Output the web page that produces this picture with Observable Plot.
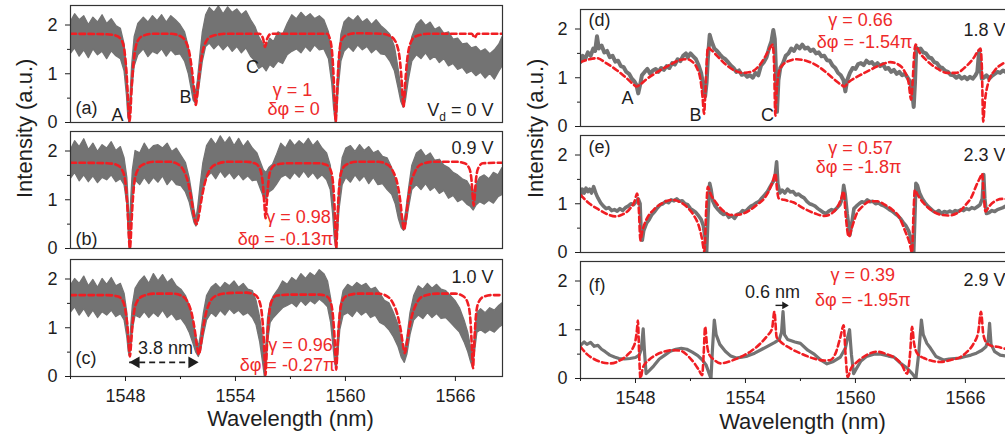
<!DOCTYPE html>
<html><head><meta charset="utf-8">
<script src="https://cdn.jsdelivr.net/npm/d3@7"></script>
<script src="https://cdn.jsdelivr.net/npm/@observablehq/plot@0.6"></script>
<style>
html,body{margin:0;padding:0;background:#fff;}
#wrap{position:relative;width:1005px;height:442px;overflow:hidden;background:#fff;}
#wrap svg{position:absolute;overflow:visible;}
</style></head>
<body><div id="wrap"></div>
<script>
// ---------- axis / tick values ----------
const X_DOMAIN = [1545, 1568.57];
const Y_DOMAIN = [0, 2.4];
const xMajor = [1548, 1554, 1560, 1566];
const xMinor = [1545, 1551, 1557, 1563];
const yMajor = [0, 1, 2];
const yMinor = [0.5, 1.5];

// ---------- measured spectra (a)-(c): noisy band [wavelength, low, high] ----------
const measA = [[1545.0,1.40,2.05],[1545.25,1.52,2.22],[1545.5,1.35,2.10],[1545.75,1.48,2.18],[1546.0,1.32,2.00],[1546.25,1.50,2.15],[1546.5,1.38,2.05],[1546.75,1.45,2.20],[1547.0,1.30,2.02],[1547.25,1.46,2.12],[1547.5,1.36,1.98],[1547.75,1.30,1.92],[1547.95,1.05,1.60],[1548.08,0.55,1.10],[1548.16,0.10,0.50],[1548.22,0.0,0.15],[1548.28,0.15,0.55],[1548.36,0.6,1.15],[1548.5,1.15,1.75],[1548.7,1.38,2.02],[1549.0,1.50,2.15],[1549.25,1.34,2.05],[1549.5,1.45,2.18],[1549.75,1.40,2.08],[1550.0,1.50,2.20],[1550.25,1.35,2.05],[1550.5,1.48,2.18],[1550.75,1.38,2.10],[1551.0,1.40,2.0],[1551.25,1.25,1.85],[1551.45,1.0,1.55],[1551.6,0.7,1.15],[1551.72,0.45,0.8],[1551.84,0.38,0.6],[1551.95,0.5,0.85],[1552.08,0.85,1.35],[1552.22,1.25,1.85],[1552.4,1.55,2.20],[1552.6,1.62,2.35],[1552.85,1.50,2.25],[1553.1,1.60,2.38],[1553.35,1.48,2.22],[1553.6,1.58,2.36],[1553.85,1.45,2.25],[1554.1,1.55,2.32],[1554.35,1.42,2.20],[1554.6,1.52,2.28],[1554.85,1.35,2.10],[1555.1,1.25,1.95],[1555.3,1.10,1.75],[1555.5,1.15,1.62],[1555.7,1.05,1.55],[1555.9,1.18,1.72],[1556.1,1.12,1.65],[1556.35,1.25,1.85],[1556.6,1.20,1.80],[1556.85,1.38,2.02],[1557.1,1.45,2.20],[1557.35,1.50,2.12],[1557.6,1.42,2.25],[1557.85,1.55,2.15],[1558.1,1.45,2.22],[1558.35,1.58,2.12],[1558.6,1.48,2.18],[1558.85,1.50,2.10],[1559.1,1.30,1.85],[1559.28,0.8,1.35],[1559.38,0.3,0.75],[1559.47,0.0,0.2],[1559.55,0.15,0.6],[1559.63,0.7,1.2],[1559.78,1.25,1.8],[1559.95,1.45,2.05],[1560.2,1.55,2.15],[1560.45,1.45,2.08],[1560.7,1.58,2.18],[1560.95,1.48,2.05],[1561.2,1.55,2.12],[1561.45,1.42,2.0],[1561.7,1.50,2.10],[1561.95,1.40,1.98],[1562.2,1.38,1.90],[1562.45,1.25,1.80],[1562.7,1.05,1.55],[1562.9,0.7,1.1],[1563.05,0.42,0.7],[1563.18,0.30,0.45],[1563.3,0.45,0.75],[1563.45,0.85,1.3],[1563.65,1.25,1.75],[1563.9,1.38,2.0],[1564.15,1.30,2.10],[1564.4,1.42,1.98],[1564.65,1.28,2.05],[1564.9,1.35,1.90],[1565.15,1.22,1.95],[1565.4,1.30,1.82],[1565.65,1.15,1.85],[1565.9,1.20,1.70],[1566.15,1.08,1.72],[1566.4,1.12,1.60],[1566.65,1.0,1.62],[1566.9,1.05,1.52],[1567.15,0.95,1.55],[1567.4,1.02,1.45],[1567.65,0.90,1.50],[1567.9,1.00,1.40],[1568.15,0.88,1.48],[1568.4,1.05,1.60],[1568.57,1.15,1.75]];

const measB = [[1545.0,1.42,2.0],[1545.25,1.55,2.2],[1545.5,1.38,2.08],[1545.75,1.5,2.24],[1546.0,1.36,2.02],[1546.25,1.48,2.15],[1546.5,1.34,1.98],[1546.75,1.45,2.12],[1547.0,1.4,2.05],[1547.25,1.5,2.18],[1547.5,1.36,2.0],[1547.75,1.42,2.08],[1547.95,1.3,1.85],[1548.1,0.9,1.45],[1548.18,0.3,0.9],[1548.24,0.0,0.4],[1548.3,0.3,0.9],[1548.4,1.0,1.6],[1548.55,1.4,2.0],[1548.8,1.3,1.95],[1549.05,1.45,2.15],[1549.3,1.32,2.0],[1549.55,1.45,2.1],[1549.8,1.35,2.12],[1550.05,1.48,2.05],[1550.3,1.3,2.15],[1550.55,1.42,1.98],[1550.8,1.3,2.05],[1551.05,1.28,1.9],[1551.3,1.15,1.75],[1551.5,0.95,1.45],[1551.65,0.7,1.1],[1551.77,0.52,0.78],[1551.87,0.45,0.6],[1551.97,0.55,0.85],[1552.1,0.85,1.3],[1552.25,1.2,1.75],[1552.45,1.45,2.1],[1552.7,1.55,2.25],[1552.95,1.42,2.12],[1553.2,1.58,2.3],[1553.45,1.45,2.15],[1553.7,1.55,2.28],[1553.95,1.42,2.1],[1554.2,1.52,2.25],[1554.45,1.4,2.08],[1554.7,1.48,2.2],[1554.95,1.38,2.05],[1555.2,1.4,1.95],[1555.4,1.2,1.75],[1555.55,1.05,1.6],[1555.7,1.0,1.55],[1555.85,1.15,1.65],[1556.05,1.2,1.72],[1556.25,1.3,1.9],[1556.5,1.45,2.15],[1556.75,1.5,2.05],[1557.0,1.42,2.22],[1557.25,1.55,2.1],[1557.5,1.45,2.2],[1557.75,1.58,2.12],[1558.0,1.45,2.25],[1558.25,1.55,2.1],[1558.5,1.42,2.2],[1558.75,1.5,2.05],[1559.0,1.4,1.95],[1559.2,1.2,1.7],[1559.33,0.7,1.2],[1559.42,0.2,0.6],[1559.5,0.0,0.15],[1559.58,0.25,0.65],[1559.68,0.8,1.3],[1559.85,1.3,1.85],[1560.05,1.45,2.05],[1560.3,1.35,2.1],[1560.55,1.5,1.98],[1560.8,1.38,2.12],[1561.05,1.48,2.0],[1561.3,1.32,2.08],[1561.55,1.45,1.95],[1561.8,1.3,2.0],[1562.05,1.32,1.88],[1562.3,1.2,1.85],[1562.55,1.1,1.65],[1562.75,0.9,1.4],[1562.92,0.6,1.0],[1563.07,0.42,0.7],[1563.2,0.36,0.5],[1563.33,0.5,0.8],[1563.48,0.85,1.25],[1563.65,1.2,1.7],[1563.9,1.3,1.95],[1564.15,1.2,2.02],[1564.4,1.32,1.88],[1564.65,1.18,1.95],[1564.9,1.25,1.8],[1565.15,1.12,1.82],[1565.4,1.18,1.7],[1565.65,1.02,1.65],[1565.9,1.08,1.55],[1566.15,0.95,1.5],[1566.4,1.0,1.42],[1566.65,0.9,1.38],[1566.85,0.85,1.25],[1567.0,0.78,1.15],[1567.15,0.88,1.3],[1567.35,0.95,1.45],[1567.6,0.9,1.5],[1567.85,0.98,1.42],[1568.1,0.92,1.55],[1568.35,1.05,1.5],[1568.57,1.1,1.65]];

const measC = [[1545.0,1.3,1.85],[1545.25,1.42,2.0],[1545.5,1.25,1.9],[1545.75,1.38,2.05],[1546.0,1.22,1.85],[1546.25,1.35,1.98],[1546.5,1.2,1.82],[1546.75,1.32,2.0],[1547.0,1.25,1.88],[1547.25,1.35,2.02],[1547.5,1.22,1.85],[1547.75,1.28,1.9],[1547.95,1.15,1.7],[1548.1,0.8,1.3],[1548.18,0.5,0.9],[1548.24,0.42,0.6],[1548.3,0.55,0.95],[1548.4,0.95,1.45],[1548.55,1.25,1.8],[1548.8,1.2,1.95],[1549.05,1.32,2.05],[1549.3,1.2,1.9],[1549.55,1.3,2.1],[1549.8,1.22,1.95],[1550.05,1.35,2.08],[1550.3,1.2,1.92],[1550.55,1.28,2.0],[1550.8,1.15,1.85],[1551.05,1.18,1.78],[1551.3,1.05,1.65],[1551.5,0.9,1.45],[1551.7,0.68,1.15],[1551.85,0.5,0.85],[1552.0,0.4,0.6],[1552.12,0.52,0.85],[1552.28,0.85,1.3],[1552.45,1.15,1.65],[1552.7,1.3,1.82],[1552.95,1.22,1.9],[1553.2,1.35,1.8],[1553.45,1.25,1.92],[1553.7,1.38,1.85],[1553.95,1.28,1.95],[1554.2,1.35,1.82],[1554.45,1.25,1.9],[1554.7,1.3,1.78],[1554.95,1.2,1.75],[1555.15,1.05,1.55],[1555.35,0.7,1.2],[1555.5,0.3,0.8],[1555.6,0.0,0.3],[1555.68,0.2,0.6],[1555.78,0.7,1.2],[1555.92,1.1,1.5],[1556.1,1.2,1.65],[1556.35,1.3,1.78],[1556.6,1.4,1.95],[1556.85,1.45,1.88],[1557.1,1.5,2.02],[1557.35,1.42,1.95],[1557.6,1.55,2.1],[1557.85,1.45,2.0],[1558.1,1.55,2.12],[1558.35,1.48,2.05],[1558.6,1.58,2.18],[1558.85,1.5,2.1],[1559.05,1.42,1.95],[1559.22,1.1,1.6],[1559.35,0.6,1.05],[1559.45,0.25,0.55],[1559.52,0.15,0.35],[1559.6,0.4,0.8],[1559.72,0.95,1.4],[1559.9,1.25,1.75],[1560.15,1.3,1.88],[1560.4,1.22,1.82],[1560.65,1.35,1.92],[1560.9,1.25,1.85],[1561.15,1.32,1.9],[1561.4,1.2,1.78],[1561.65,1.25,1.82],[1561.9,1.1,1.7],[1562.15,1.05,1.55],[1562.4,0.95,1.5],[1562.65,0.8,1.3],[1562.9,0.6,1.05],[1563.08,0.38,0.75],[1563.24,0.28,0.5],[1563.38,0.45,0.8],[1563.55,0.85,1.3],[1563.75,1.15,1.65],[1564.0,1.25,1.85],[1564.25,1.18,1.78],[1564.5,1.3,1.9],[1564.75,1.2,1.8],[1565.0,1.28,1.88],[1565.25,1.18,1.78],[1565.5,1.2,1.75],[1565.75,1.1,1.65],[1566.0,1.0,1.55],[1566.25,0.9,1.4],[1566.5,0.7,1.15],[1566.7,0.5,0.9],[1566.85,0.3,0.6],[1566.96,0.18,0.4],[1567.07,0.5,0.85],[1567.2,0.9,1.3],[1567.4,0.95,1.38],[1567.65,0.88,1.3],[1567.9,0.95,1.4],[1568.15,0.9,1.35],[1568.4,1.0,1.45],[1568.57,1.05,1.5]];

// ---------- measured spectra (d)-(f): [wavelength, intensity] ----------
const measD = [[1545.00,1.32],[1545.12,1.45],[1545.25,1.38],[1545.4,1.52],[1545.55,1.45],[1545.7,1.6],[1545.8,1.55],[1545.9,1.85],[1546.0,1.6],[1546.15,1.66],[1546.3,1.52],[1546.45,1.55],[1546.6,1.42],[1546.75,1.45],[1546.9,1.33],[1547.05,1.35],[1547.2,1.24],[1547.35,1.22],[1547.5,1.12],[1547.65,1.08],[1547.8,0.98],[1547.95,0.92],[1548.05,0.85],[1548.15,0.68],[1548.25,0.85],[1548.35,1.05],[1548.5,1.12],[1548.65,1.18],[1548.8,1.08],[1548.95,1.15],[1549.1,1.18],[1549.25,1.12],[1549.4,1.2],[1549.55,1.16],[1549.7,1.24],[1549.85,1.2],[1550.0,1.3],[1550.15,1.27],[1550.3,1.38],[1550.45,1.34],[1550.6,1.45],[1550.75,1.5],[1550.85,1.42],[1551.0,1.5],[1551.15,1.44],[1551.3,1.38],[1551.45,1.25],[1551.58,1.1],[1551.7,0.85],[1551.8,0.62],[1551.88,0.9],[1551.95,1.4],[1552.05,1.88],[1552.15,1.75],[1552.3,1.6],[1552.45,1.55],[1552.6,1.48],[1552.75,1.42],[1552.9,1.38],[1553.05,1.32],[1553.2,1.25],[1553.35,1.2],[1553.5,1.12],[1553.65,1.15],[1553.8,1.06],[1553.95,1.08],[1554.1,1.02],[1554.25,1.05],[1554.4,1.0],[1554.55,1.1],[1554.7,1.05],[1554.85,1.25],[1555.0,1.32],[1555.15,1.42],[1555.3,1.62],[1555.42,1.75],[1555.52,1.98],[1555.6,1.8],[1555.66,1.2],[1555.72,0.3],[1555.8,0.95],[1555.9,1.2],[1556.05,1.3],[1556.2,1.45],[1556.35,1.5],[1556.5,1.6],[1556.65,1.55],[1556.8,1.66],[1556.95,1.6],[1557.1,1.68],[1557.25,1.6],[1557.4,1.62],[1557.55,1.55],[1557.7,1.58],[1557.85,1.5],[1558.0,1.52],[1558.15,1.44],[1558.3,1.45],[1558.45,1.36],[1558.6,1.35],[1558.75,1.25],[1558.9,1.2],[1559.05,1.1],[1559.2,1.05],[1559.35,0.95],[1559.45,0.72],[1559.55,0.95],[1559.7,1.1],[1559.85,1.2],[1560.0,1.18],[1560.15,1.28],[1560.3,1.3],[1560.45,1.26],[1560.6,1.35],[1560.75,1.3],[1560.9,1.32],[1561.05,1.25],[1561.2,1.3],[1561.35,1.24],[1561.5,1.28],[1561.65,1.18],[1561.8,1.2],[1561.95,1.12],[1562.1,1.16],[1562.25,1.08],[1562.4,1.12],[1562.55,1.05],[1562.7,1.08],[1562.85,1.0],[1562.98,0.92],[1563.1,0.7],[1563.18,0.4],[1563.25,0.9],[1563.32,1.62],[1563.42,1.58],[1563.55,1.6],[1563.7,1.52],[1563.85,1.5],[1564.0,1.42],[1564.15,1.4],[1564.3,1.32],[1564.45,1.3],[1564.6,1.22],[1564.75,1.2],[1564.9,1.14],[1565.05,1.12],[1565.2,1.06],[1565.35,1.05],[1565.5,1.0],[1565.65,1.04],[1565.8,0.98],[1565.95,1.02],[1566.1,0.97],[1566.25,1.02],[1566.4,0.98],[1566.55,1.05],[1566.65,1.12],[1566.75,1.55],[1566.82,1.2],[1566.9,0.98],[1567.0,1.0],[1567.15,1.05],[1567.3,0.98],[1567.45,1.04],[1567.6,1.08],[1567.75,1.12],[1567.9,1.1],[1568.05,1.15],[1568.2,1.12],[1568.4,1.15],[1568.57,1.12]];

const measE = [[1545.0,1.15],[1545.1,1.3],[1545.2,1.22],[1545.3,1.32],[1545.4,1.25],[1545.5,1.3],[1545.6,1.22],[1545.72,1.35],[1545.85,1.2],[1545.95,1.12],[1546.1,1.02],[1546.25,0.95],[1546.4,0.9],[1546.55,0.92],[1546.7,0.86],[1546.85,0.88],[1547.0,0.85],[1547.15,0.9],[1547.3,0.86],[1547.45,0.92],[1547.6,0.95],[1547.75,1.0],[1547.9,0.98],[1548.05,1.05],[1548.15,1.1],[1548.25,1.0],[1548.3,0.5],[1548.37,0.25],[1548.45,0.45],[1548.6,0.6],[1548.75,0.68],[1548.9,0.78],[1549.05,0.84],[1549.2,0.92],[1549.35,0.98],[1549.5,1.0],[1549.65,1.05],[1549.8,1.02],[1549.95,1.08],[1550.1,1.06],[1550.25,1.1],[1550.4,1.05],[1550.55,1.06],[1550.7,1.0],[1550.85,0.98],[1551.0,0.9],[1551.15,0.86],[1551.3,0.82],[1551.45,0.75],[1551.58,0.68],[1551.7,0.55],[1551.8,0.3],[1551.88,0.0],[1551.96,0.8],[1552.05,1.42],[1552.12,1.3],[1552.22,1.05],[1552.35,0.95],[1552.5,0.88],[1552.65,0.82],[1552.8,0.78],[1552.95,0.8],[1553.1,0.72],[1553.25,0.76],[1553.4,0.7],[1553.55,0.78],[1553.7,0.8],[1553.85,0.86],[1554.0,0.84],[1554.15,0.9],[1554.3,0.95],[1554.45,0.98],[1554.6,1.02],[1554.75,1.05],[1554.9,1.12],[1555.05,1.18],[1555.2,1.25],[1555.35,1.35],[1555.5,1.45],[1555.6,1.5],[1555.7,1.86],[1555.77,1.4],[1555.88,1.22],[1556.0,1.28],[1556.15,1.22],[1556.3,1.3],[1556.45,1.24],[1556.6,1.25],[1556.75,1.18],[1556.9,1.2],[1557.05,1.15],[1557.2,1.12],[1557.35,1.05],[1557.5,1.0],[1557.65,0.98],[1557.8,0.95],[1557.95,0.9],[1558.1,0.86],[1558.25,0.82],[1558.4,0.8],[1558.55,0.85],[1558.7,0.88],[1558.85,0.86],[1559.0,0.92],[1559.15,0.98],[1559.28,1.1],[1559.36,1.38],[1559.44,1.2],[1559.55,0.8],[1559.7,0.36],[1559.8,0.6],[1559.92,0.9],[1560.05,0.95],[1560.2,1.0],[1560.35,1.04],[1560.5,1.02],[1560.65,1.08],[1560.8,1.04],[1560.95,1.05],[1561.1,1.0],[1561.25,1.02],[1561.4,0.98],[1561.55,0.96],[1561.7,0.92],[1561.85,0.88],[1562.0,0.85],[1562.15,0.8],[1562.3,0.76],[1562.45,0.7],[1562.6,0.62],[1562.75,0.55],[1562.9,0.45],[1563.02,0.3],[1563.12,0.1],[1563.18,0.0],[1563.24,0.7],[1563.3,1.42],[1563.38,1.38],[1563.5,1.22],[1563.65,1.1],[1563.8,1.02],[1563.95,0.95],[1564.1,0.9],[1564.25,0.85],[1564.4,0.82],[1564.55,0.86],[1564.7,0.8],[1564.85,0.84],[1565.0,0.82],[1565.15,0.85],[1565.3,0.82],[1565.45,0.86],[1565.6,0.84],[1565.75,0.88],[1565.9,0.86],[1566.05,0.9],[1566.2,0.88],[1566.35,0.92],[1566.5,0.9],[1566.65,0.94],[1566.8,0.98],[1566.92,1.1],[1567.0,1.6],[1567.06,1.1],[1567.15,0.8],[1567.3,0.82],[1567.45,0.86],[1567.6,0.84],[1567.75,0.88],[1567.9,0.9],[1568.05,0.92],[1568.2,0.95],[1568.4,0.98],[1568.57,1.0]];

const measF = [[1545.0,0.68],[1545.2,0.75],[1545.35,0.7],[1545.55,0.74],[1545.75,0.66],[1545.95,0.68],[1546.15,0.6],[1546.35,0.55],[1546.6,0.48],[1546.85,0.44],[1547.1,0.41],[1547.4,0.4],[1547.7,0.41],[1548.0,0.43],[1548.2,0.48],[1548.32,0.6],[1548.42,1.02],[1548.5,0.5],[1548.58,0.1],[1548.75,0.16],[1549.0,0.26],[1549.3,0.4],[1549.6,0.48],[1549.9,0.56],[1550.2,0.6],[1550.5,0.62],[1550.8,0.6],[1551.1,0.54],[1551.4,0.47],[1551.65,0.38],[1551.85,0.28],[1552.0,0.12],[1552.12,0.0],[1552.2,0.6],[1552.3,1.2],[1552.4,0.9],[1552.6,0.7],[1552.9,0.56],[1553.2,0.46],[1553.5,0.42],[1553.8,0.44],[1554.1,0.46],[1554.5,0.52],[1554.9,0.6],[1555.3,0.68],[1555.6,0.74],[1555.85,0.8],[1555.97,0.95],[1556.05,1.37],[1556.13,0.9],[1556.3,0.8],[1556.7,0.75],[1557.0,0.72],[1557.4,0.58],[1557.75,0.5],[1558.1,0.38],[1558.45,0.3],[1558.8,0.35],[1559.18,0.44],[1559.45,0.62],[1559.58,0.85],[1559.68,1.0],[1559.78,0.5],[1559.9,0.1],[1560.05,0.2],[1560.3,0.36],[1560.6,0.45],[1561.0,0.5],[1561.4,0.5],[1561.8,0.46],[1562.1,0.44],[1562.5,0.3],[1562.8,0.22],[1563.1,0.1],[1563.3,0.0],[1563.45,0.5],[1563.6,1.2],[1563.7,0.9],[1563.9,0.72],[1564.1,0.62],[1564.4,0.45],[1564.8,0.38],[1565.1,0.4],[1565.4,0.41],[1565.7,0.42],[1566.0,0.45],[1566.3,0.48],[1566.6,0.52],[1566.9,0.58],[1567.12,0.65],[1567.25,0.8],[1567.32,1.13],[1567.4,0.7],[1567.6,0.55],[1567.9,0.48],[1568.2,0.46],[1568.57,0.45]];

// ---------- fitted curves (red dashed): [wavelength, intensity] ----------
const fitA = [[1545.0,1.82],[1547.0,1.81],[1547.5,1.78],[1547.8,1.68],[1547.95,1.45],[1548.05,1.05],[1548.12,0.6],[1548.18,0.15],[1548.22,0.02],[1548.26,0.15],[1548.32,0.6],[1548.4,1.05],[1548.5,1.42],[1548.65,1.66],[1548.9,1.77],[1549.5,1.82],[1550.5,1.82],[1551.0,1.77],[1551.3,1.65],[1551.5,1.40],[1551.65,1.0],[1551.76,0.6],[1551.84,0.36],[1551.92,0.6],[1552.03,1.0],[1552.18,1.40],[1552.38,1.65],[1552.7,1.77],[1553.5,1.82],[1555.3,1.82],[1555.5,1.73],[1555.62,1.55],[1555.74,1.73],[1555.95,1.82],[1559.0,1.82],[1559.15,1.72],[1559.28,1.4],[1559.36,0.9],[1559.42,0.35],[1559.47,0.02],[1559.52,0.35],[1559.58,0.9],[1559.66,1.4],[1559.8,1.7],[1560.1,1.8],[1560.6,1.83],[1562.0,1.82],[1562.5,1.76],[1562.8,1.6],[1562.98,1.25],[1563.08,0.8],[1563.17,0.32],[1563.26,0.8],[1563.36,1.25],[1563.52,1.6],[1563.8,1.76],[1564.5,1.82],[1566.9,1.82],[1567.05,1.74],[1567.2,1.82],[1568.57,1.82]];

const fitB = [[1545.0,1.76],[1547.0,1.75],[1547.5,1.72],[1547.8,1.62],[1547.98,1.4],[1548.08,1.0],[1548.15,0.55],[1548.2,0.15],[1548.24,0.0],[1548.28,0.15],[1548.33,0.55],[1548.4,1.0],[1548.5,1.4],[1548.68,1.62],[1548.95,1.72],[1549.6,1.78],[1550.4,1.78],[1550.9,1.72],[1551.2,1.58],[1551.45,1.3],[1551.62,0.95],[1551.75,0.65],[1551.87,0.5],[1551.99,0.65],[1552.12,0.95],[1552.3,1.3],[1552.55,1.58],[1552.9,1.72],[1553.6,1.78],[1554.6,1.78],[1555.1,1.74],[1555.35,1.62],[1555.5,1.3],[1555.58,0.9],[1555.64,0.62],[1555.7,0.9],[1555.78,1.3],[1555.93,1.62],[1556.2,1.72],[1557.0,1.75],[1558.5,1.75],[1558.95,1.72],[1559.2,1.6],[1559.32,1.35],[1559.4,0.9],[1559.46,0.3],[1559.5,0.0],[1559.54,0.3],[1559.6,0.9],[1559.68,1.35],[1559.8,1.6],[1560.05,1.72],[1560.6,1.78],[1561.8,1.78],[1562.3,1.72],[1562.6,1.58],[1562.85,1.3],[1563.0,0.95],[1563.1,0.6],[1563.2,0.38],[1563.3,0.6],[1563.4,0.95],[1563.55,1.3],[1563.8,1.58],[1564.1,1.72],[1564.8,1.78],[1566.0,1.78],[1566.5,1.75],[1566.75,1.65],[1566.88,1.4],[1566.95,1.05],[1567.0,0.88],[1567.05,1.05],[1567.12,1.4],[1567.25,1.65],[1567.5,1.75],[1568.57,1.76]];

const fitC = [[1545.0,1.67],[1547.0,1.67],[1547.6,1.64],[1547.85,1.55],[1548.0,1.35],[1548.1,1.05],[1548.18,0.65],[1548.24,0.41],[1548.3,0.65],[1548.38,1.05],[1548.48,1.35],[1548.65,1.55],[1548.95,1.65],[1549.6,1.7],[1550.6,1.7],[1551.1,1.65],[1551.4,1.52],[1551.62,1.28],[1551.78,0.95],[1551.9,0.62],[1552.0,0.45],[1552.1,0.62],[1552.22,0.95],[1552.38,1.28],[1552.6,1.52],[1552.9,1.65],[1553.6,1.71],[1554.6,1.72],[1555.05,1.68],[1555.3,1.55],[1555.45,1.25],[1555.54,0.8],[1555.6,0.3],[1555.64,0.03],[1555.68,0.3],[1555.74,0.8],[1555.83,1.25],[1555.98,1.55],[1556.25,1.66],[1557.0,1.68],[1558.6,1.68],[1559.0,1.64],[1559.2,1.52],[1559.33,1.2],[1559.42,0.7],[1559.47,0.3],[1559.5,0.14],[1559.53,0.3],[1559.58,0.7],[1559.67,1.2],[1559.8,1.52],[1560.05,1.65],[1560.7,1.7],[1561.8,1.7],[1562.3,1.64],[1562.6,1.5],[1562.85,1.25],[1563.02,0.95],[1563.14,0.65],[1563.24,0.48],[1563.34,0.65],[1563.46,0.95],[1563.63,1.25],[1563.88,1.5],[1564.2,1.64],[1565.0,1.7],[1566.0,1.7],[1566.45,1.64],[1566.68,1.5],[1566.82,1.15],[1566.9,0.6],[1566.96,0.17],[1567.02,0.6],[1567.1,1.15],[1567.24,1.5],[1567.5,1.63],[1568.0,1.67],[1568.57,1.67]];

const fitD = [[1545.0,1.32],[1545.5,1.38],[1545.9,1.4],[1546.4,1.3],[1547.0,1.15],[1547.55,0.98],[1547.9,0.86],[1548.05,0.82],[1548.25,0.86],[1548.6,0.97],[1549.2,1.12],[1549.8,1.25],[1550.4,1.36],[1550.8,1.38],[1551.1,1.33],[1551.35,1.2],[1551.55,0.95],[1551.66,0.6],[1551.74,0.26],[1551.8,0.6],[1551.87,1.2],[1551.95,1.62],[1552.1,1.58],[1552.45,1.45],[1552.9,1.28],[1553.4,1.15],[1553.9,1.1],[1554.3,1.12],[1554.75,1.25],[1555.1,1.45],[1555.35,1.62],[1555.48,1.68],[1555.56,1.3],[1555.63,0.22],[1555.7,0.7],[1555.82,1.1],[1556.0,1.25],[1556.4,1.35],[1556.8,1.38],[1557.3,1.35],[1557.9,1.25],[1558.5,1.08],[1558.9,0.95],[1559.25,0.85],[1559.4,0.82],[1559.6,0.9],[1560.0,1.0],[1560.6,1.12],[1561.3,1.25],[1561.9,1.32],[1562.3,1.28],[1562.65,1.15],[1562.9,0.9],[1563.04,0.55],[1563.12,0.9],[1563.2,1.45],[1563.28,1.68],[1563.45,1.55],[1563.9,1.35],[1564.5,1.18],[1565.0,1.1],[1565.5,1.1],[1566.0,1.22],[1566.4,1.38],[1566.7,1.55],[1566.82,1.6],[1566.9,1.2],[1566.97,0.1],[1567.06,0.5],[1567.25,0.9],[1567.6,1.15],[1568.0,1.28],[1568.57,1.35]];

const fitE = [[1545.0,1.18],[1545.5,1.0],[1546.0,0.88],[1546.5,0.78],[1546.9,0.74],[1547.3,0.78],[1547.7,0.9],[1547.95,1.05],[1548.09,1.21],[1548.18,0.9],[1548.27,0.25],[1548.38,0.45],[1548.6,0.68],[1549.0,0.88],[1549.5,1.02],[1550.0,1.08],[1550.5,1.02],[1550.9,0.9],[1551.2,0.75],[1551.45,0.55],[1551.62,0.3],[1551.76,0.02],[1551.86,0.9],[1551.95,1.35],[1552.1,1.2],[1552.4,1.02],[1552.8,0.85],[1553.2,0.77],[1553.7,0.78],[1554.2,0.86],[1554.7,1.0],[1555.05,1.12],[1555.3,1.28],[1555.48,1.45],[1555.64,1.62],[1555.72,1.3],[1555.82,1.11],[1556.1,1.08],[1556.6,1.03],[1557.2,0.9],[1557.8,0.8],[1558.3,0.75],[1558.7,0.8],[1559.0,0.92],[1559.2,1.08],[1559.36,1.25],[1559.46,0.8],[1559.64,0.32],[1559.8,0.5],[1560.05,0.78],[1560.4,0.95],[1560.8,1.05],[1561.2,1.05],[1561.6,0.98],[1562.0,0.88],[1562.4,0.72],[1562.7,0.45],[1562.95,0.2],[1563.09,0.0],[1563.17,0.8],[1563.24,1.28],[1563.4,1.18],[1563.7,1.02],[1564.1,0.88],[1564.6,0.78],[1565.1,0.76],[1565.6,0.82],[1566.0,0.97],[1566.35,1.15],[1566.6,1.38],[1566.82,1.55],[1566.91,1.62],[1567.0,1.2],[1567.09,0.84],[1567.3,0.95],[1567.6,1.05],[1568.0,1.1],[1568.57,1.1]];

const fitF = [[1545.0,0.65],[1545.35,0.5],[1545.73,0.4],[1546.2,0.33],[1546.64,0.31],[1547.1,0.36],[1547.55,0.48],[1547.85,0.62],[1548.0,0.78],[1548.08,1.0],[1548.13,1.19],[1548.2,0.5],[1548.27,0.0],[1548.4,0.22],[1548.73,0.38],[1549.1,0.48],[1549.55,0.55],[1550.0,0.58],[1550.45,0.57],[1550.9,0.45],[1551.2,0.32],[1551.45,0.18],[1551.64,0.07],[1551.72,0.5],[1551.8,1.06],[1551.9,0.7],[1552.0,0.51],[1552.3,0.38],[1552.64,0.31],[1553.2,0.36],[1553.73,0.44],[1554.3,0.56],[1554.82,0.72],[1555.2,0.88],[1555.45,1.02],[1555.58,1.37],[1555.7,0.85],[1555.85,0.78],[1556.45,0.62],[1557.1,0.5],[1557.73,0.41],[1558.3,0.37],[1558.64,0.38],[1558.95,0.55],[1559.18,0.85],[1559.36,1.09],[1559.46,0.5],[1559.58,0.03],[1559.75,0.2],[1560.09,0.34],[1560.6,0.48],[1561.18,0.55],[1561.7,0.5],[1562.09,0.44],[1562.5,0.3],[1562.82,0.1],[1562.98,0.5],[1563.09,1.06],[1563.2,0.72],[1563.4,0.5],[1563.73,0.42],[1564.2,0.36],[1564.64,0.34],[1565.2,0.38],[1565.73,0.44],[1566.1,0.55],[1566.45,0.72],[1566.7,0.95],[1566.85,1.37],[1566.98,0.9],[1567.18,0.72],[1567.5,0.66],[1567.73,0.65],[1568.18,0.61],[1568.57,0.6]];

// ---------- annotations: [wavelength, intensity, text, anchor, isRed] ----------
const notesA = [[1545.27,0.30,"(a)","start",0],[1547.56,0.15,"A","middle",0],[1551.27,0.52,"B","middle",0],[1554.93,1.13,"C","middle",0],[1557.11,0.66,"γ = 1","middle",1],[1557.17,0.27,"δφ = 0","middle",1],[1568.08,0.25,"Vd = 0 V","end",0]];
const notesB = [[1545.27,0.20,"(b)","start",0],[1568.08,2.05,"0.9 V","end",0],[1557.44,0.64,"γ = 0.98","middle",1],[1556.73,0.20,"δφ = -0.13π","middle",1]];
const notesC = [[1545.27,0.37,"(c)","start",0],[1568.08,2.03,"1.0 V","end",0],[1557.55,0.64,"γ = 0.96","middle",1],[1556.84,0.23,"δφ = -0.27π","middle",1],[1550.18,0.57,"3.8 nm","middle",0]];
const notesD = [[1545.44,2.17,"(d)","start",0],[1560.28,2.17,"γ = 0.66","middle",1],[1560.5,1.72,"δφ = -1.54π","middle",1],[1565.9,1.97,"1.8 V","start",0],[1547.56,0.57,"A","middle",0],[1551.27,0.23,"B","middle",0],[1555.2,0.23,"C","middle",0]];
const notesE = [[1545.44,2.15,"(e)","start",0],[1560.28,2.13,"γ = 0.57","middle",1],[1560.17,1.74,"δφ = -1.8π","middle",1],[1565.9,1.99,"2.3 V","start",0]];
const notesF = [[1545.44,1.91,"(f)","start",0],[1560.4,2.11,"γ = 0.39","middle",1],[1560.4,1.60,"δφ = -1.95π","middle",1],[1565.9,2.01,"2.9 V","start",0],[1555.47,1.76,"0.6 nm","middle",0]];
// arrows: [from wavelength, to wavelength, intensity]
const spanC = [[1548.2, 1552.0, 0.29]];
const shiftF = [[1555.64, 1556.29, 1.50]];

// ---------- styling ----------
const FONT = '"Liberation Sans", Arial, Helvetica, sans-serif';
const GRAY = "#737373", RED = "#f01e23", RED_TXT = "#ee2a2a", TXT = "#1e1e1e";
const wrap = document.getElementById("wrap");

function noteMarks(notes) {
  const out = [];
  for (const anchor of ["start", "middle", "end"]) for (const red of [0, 1]) {
    const sub = notes.filter(n => n[3] === anchor && n[4] === red);
    if (sub.length) out.push(Plot.text(sub, {x: d => d[0], y: d => d[1], text: d => d[2], textAnchor: anchor, fill: red ? RED_TXT : TXT, fontSize: 18}));
  }
  return out;
}

function panel(cfg) {
  const mb = cfg.bottom ? 66 : 5;
  const marks = [];
  if (cfg.band) marks.push(Plot.areaY(cfg.band, {x: d => d[0], y1: d => d[1], y2: d => d[2], fill: GRAY, stroke: GRAY, strokeWidth: 1.3, clip: true}));
  if (cfg.trace) marks.push(Plot.line(cfg.trace, {x: d => d[0], y: d => d[1], stroke: GRAY, strokeWidth: cfg.traceWidth, strokeLinejoin: "round", clip: true}));
  marks.push(Plot.line(cfg.fit, {x: d => d[0], y: d => d[1], stroke: RED, strokeWidth: 2.6, strokeDasharray: "5.5,3.5", curve: "monotone-x", clip: true}));
  marks.push(Plot.frame({stroke: "#333", strokeWidth: 1.2}));
  marks.push(Plot.axisY({ticks: yMajor, tickSize: 5, tickPadding: 8, tickFormat: d => String(d), label: null}));
  marks.push(Plot.axisY({ticks: yMinor, tickSize: 3, tickFormat: () => "", label: null}));
  if (cfg.bottom) {
    marks.push(Plot.axisX({ticks: xMajor, tickSize: 5, tickPadding: 8, tickFormat: d => String(d), label: null}));
    marks.push(Plot.axisX({ticks: xMinor, tickSize: 3, tickFormat: () => "", label: null}));
    marks.push(Plot.text(["Wavelength (nm)"], {frameAnchor: "bottom", dy: cfg.titleDy, dx: cfg.titleDx, fontSize: 22, fill: TXT}));
  }
  if (cfg.yTitle) marks.push(Plot.text(["Intensity (a.u.)"], {frameAnchor: "left", rotate: -90, dx: cfg.yTitleDx, dy: cfg.yTitleDy, fontSize: 22, fill: TXT}));
  marks.push(...noteMarks(cfg.notes));
  if (cfg.extra) marks.push(...cfg.extra);
  const svg = Plot.plot({
    width: 512, height: 5 + 117 + mb,
    marginLeft: 70, marginRight: 10, marginTop: 5, marginBottom: mb,
    x: cfg.bottom ? {domain: X_DOMAIN} : {domain: X_DOMAIN, axis: null},
    y: {domain: Y_DOMAIN},
    style: {fontFamily: FONT, fontSize: "18px", color: TXT, background: "transparent", overflow: "visible"},
    marks
  });
  svg.style.left = cfg.left + "px";
  svg.style.top = cfg.top + "px";
  // subscript for V_d
  svg.querySelectorAll("text").forEach(t => {
    if (t.textContent === "Vd = 0 V") {
      t.textContent = "";
      const ns = "http://www.w3.org/2000/svg";
      const a = document.createElementNS(ns, "tspan"); a.textContent = "V";
      const b = document.createElementNS(ns, "tspan"); b.textContent = "d"; b.setAttribute("dy", "5"); b.setAttribute("font-size", "12");
      const c = document.createElementNS(ns, "tspan"); c.textContent = " = 0 V"; c.setAttribute("dy", "-5");
      t.append(a, b, c);
    }
  });
  wrap.appendChild(svg);
}

const arrowC = [
  Plot.link(spanC, {x1: d => d[0], x2: d => d[1], y1: d => d[2], y2: d => d[2], stroke: TXT, strokeWidth: 1.6, strokeDasharray: "6,4"}),
  Plot.dot(spanC, {x: d => d[0], y: d => d[2], symbol: "triangle", r: 4.4, rotate: -90, fill: TXT, stroke: "none", dx: 7}),
  Plot.dot(spanC, {x: d => d[1], y: d => d[2], symbol: "triangle", r: 4.4, rotate: 90, fill: TXT, stroke: "none", dx: -7})
];
const arrowF = [
  Plot.link(shiftF, {x1: d => d[0], x2: d => d[1], y1: d => d[2], y2: d => d[2], stroke: TXT, strokeWidth: 1.4}),
  Plot.dot(shiftF, {x: d => d[1], y: d => d[2], symbol: "triangle", r: 2.8, rotate: 90, fill: TXT, stroke: "none", dx: -3})
];

panel({left: 0, top: 0, band: measA, fit: fitA, notes: notesA});
panel({left: 0, top: 126, band: measB, fit: fitB, notes: notesB, yTitle: true, yTitleDx: -46, yTitleDy: 8});
panel({left: 0, top: 254, band: measC, fit: fitC, notes: notesC, bottom: true, titleDx: 4, titleDy: 49, extra: arrowC});
panel({left: 510, top: 4, trace: measD, traceWidth: 4, fit: fitD, notes: notesD});
panel({left: 510, top: 130, trace: measE, traceWidth: 3.6, fit: fitE, notes: notesE, yTitle: true, yTitleDx: -45, yTitleDy: 4});
panel({left: 510, top: 256, trace: measF, traceWidth: 3.2, fit: fitF, notes: notesF, bottom: true, titleDx: 6, titleDy: 50, extra: arrowF});
</script>
</body></html>
